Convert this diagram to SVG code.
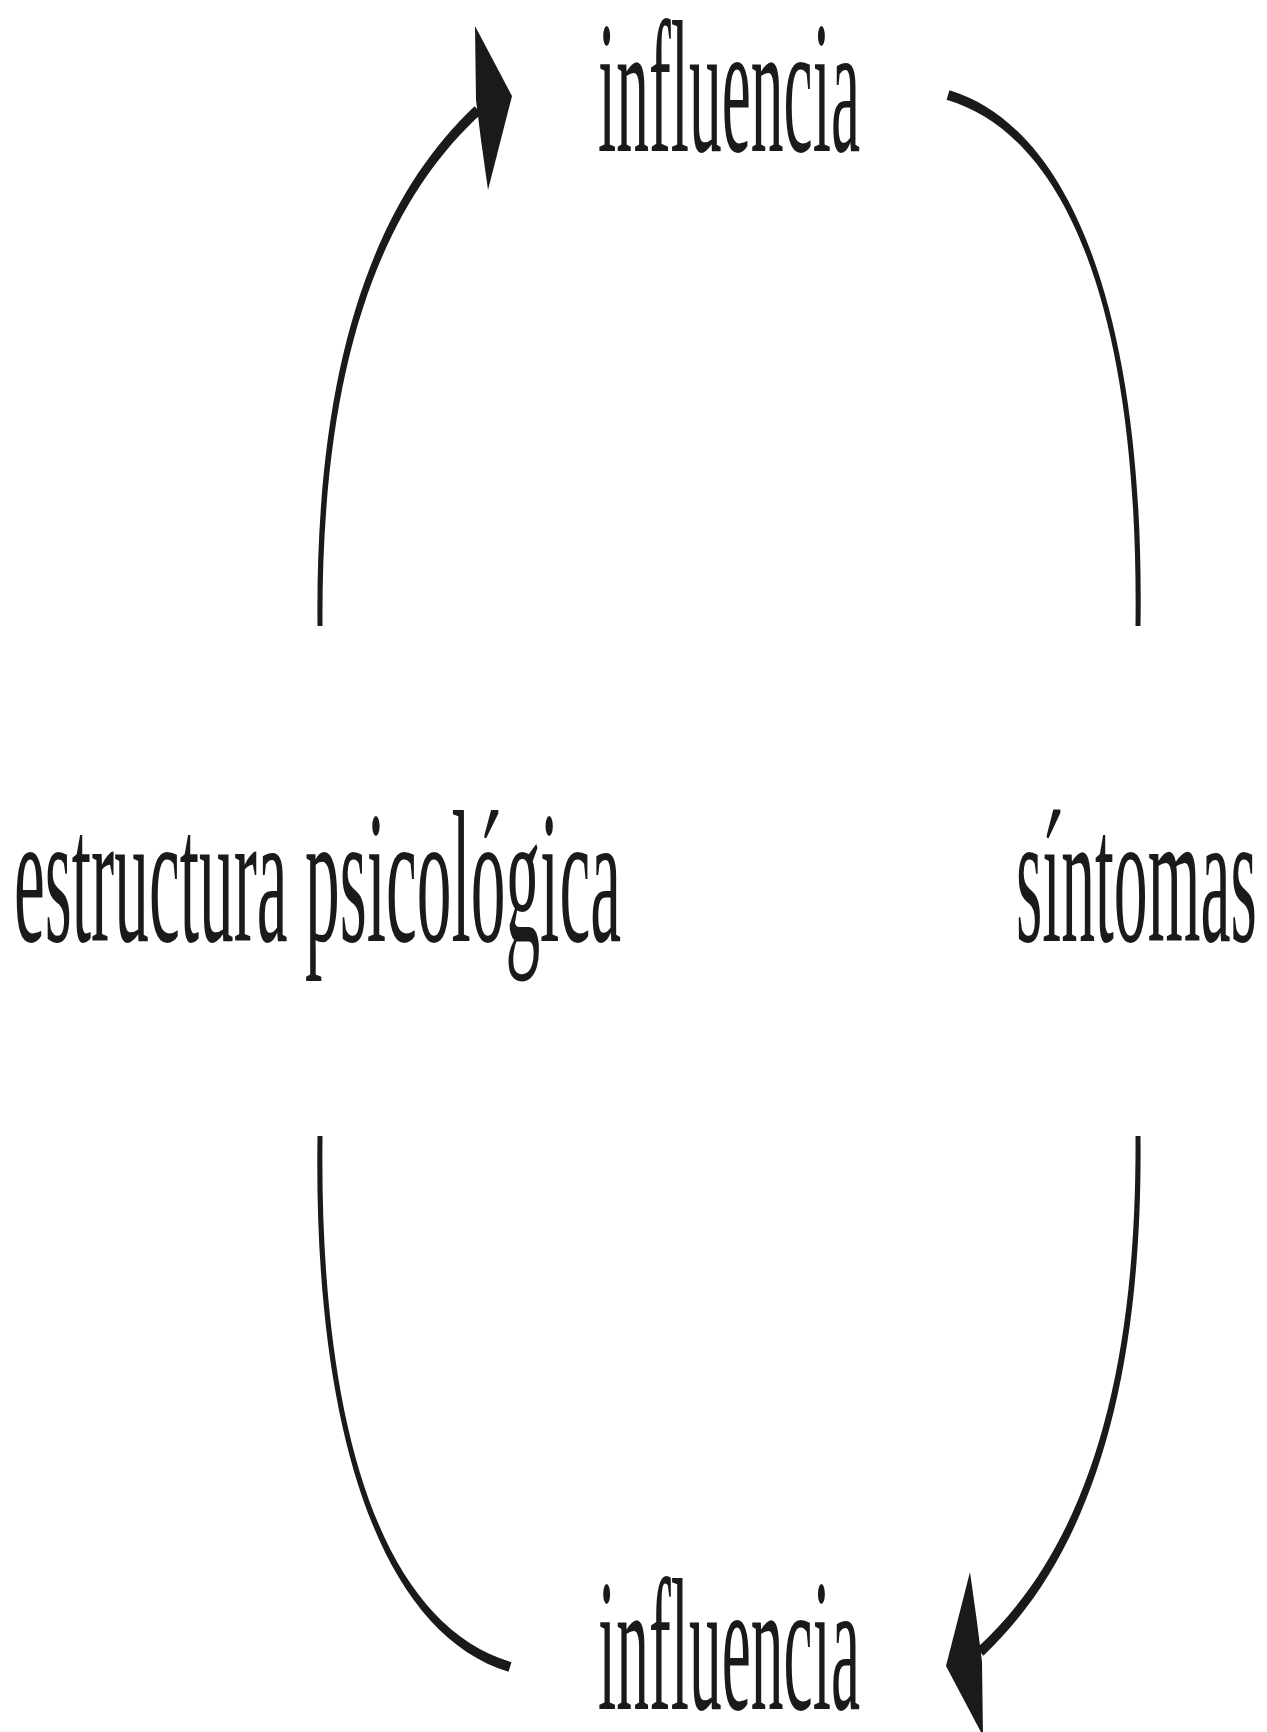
<svg xmlns="http://www.w3.org/2000/svg" width="1267" height="1732" viewBox="0 0 1267 1732">
<style>
.lbl{font-family:"Liberation Serif","Times New Roman",serif;font-size:188px;fill:#1a1a1a}
.ink{fill:#1a1a1a;stroke:none}
</style>
<defs>
<g id="arcL">
<path class="ink" d="M317.5,626 C315,380 366.6,208 474.6,106.35 L481.4,113.65 C373.4,212 321,380 322.5,626 Z"/>
<path class="ink" d="M475,26 L512,96 L488,190 L481,140 L476,100 Z"/>
</g>
<g id="arcR">
<path class="ink" d="M949.45,90.2 C1081.3,130.7 1145,340 1140.5,626 L1135.5,626 C1139,340 1078.7,139.3 946.55,99.8 Z"/>
</g>
</defs>
<rect width="1267" height="1732" fill="#ffffff"/>
<g id="connectors">
<use href="#arcL"/>
<use href="#arcR"/>
<use href="#arcL" transform="rotate(180 729 881)"/>
<use href="#arcR" transform="rotate(180 729 881)"/>
</g>
<g id="node-influencia-top" transform="translate(598,151) scale(0.3484,1)"><text class="lbl" x="0" y="0" textLength="752" lengthAdjust="spacingAndGlyphs">influencia</text></g>
<g id="node-estructura" transform="translate(14,941) scale(0.369,1)"><text class="lbl" x="0" y="0" textLength="1645" lengthAdjust="spacingAndGlyphs">estructura psicológica</text></g>
<g id="node-sintomas" transform="translate(1016,941) scale(0.36,1)"><text class="lbl" x="0" y="0" textLength="669" lengthAdjust="spacingAndGlyphs">síntomas</text></g>
<g id="node-influencia-bottom" transform="translate(598,1709) scale(0.3484,1)"><text class="lbl" x="0" y="0" textLength="752" lengthAdjust="spacingAndGlyphs">influencia</text></g>
</svg>
